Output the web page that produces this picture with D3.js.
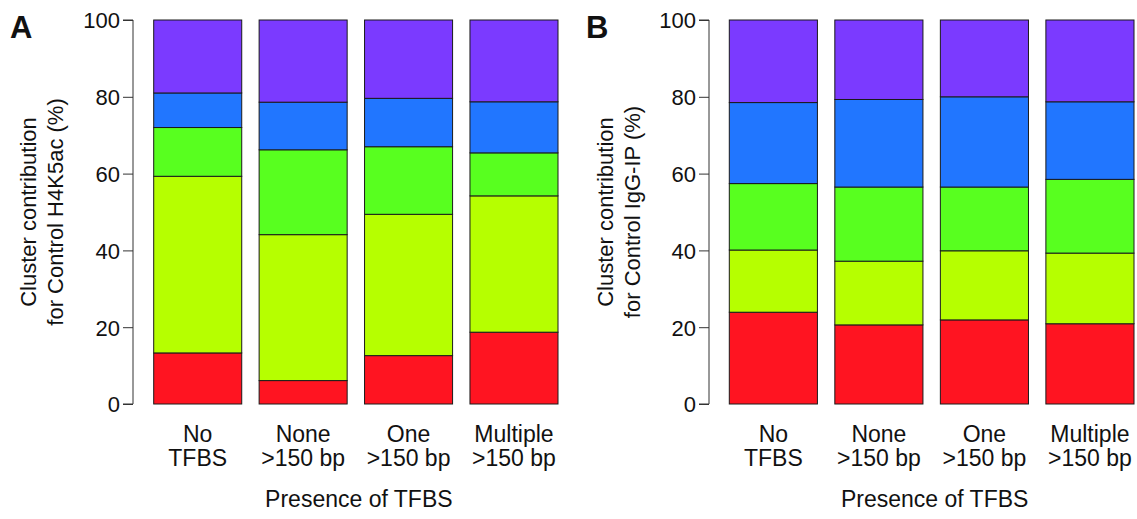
<!DOCTYPE html>
<meta charset="utf-8">
<style>
  body { margin: 0; background: #fff; }
  text { font-family: "Liberation Sans", Arial, sans-serif; fill: #111; }
</style>
<body></body>
<script src="https://cdn.jsdelivr.net/npm/d3@7"></script>
<script>
  const width = 1137
  const height = 519

  const categories = ["No\nTFBS", "None\n>150 bp", "One\n>150 bp", "Multiple\n>150 bp"]
  const clusters = ["red", "yellow", "green", "blue", "purple"] // bottom to top
  const clusterColors = ["#ff1421", "#b6ff00", "#58ff1f", "#2176ff", "#7b3aff"]
  const yTicks = [0, 20, 40, 60, 80, 100]

  // segment sizes (%) per bar, bottom to top
  const h4k5acRed = [13.3, 6.1, 12.6, 18.7]
  const h4k5acYellow = [46.0, 38.0, 36.8, 35.5]
  const h4k5acGreen = [12.7, 22.1, 17.6, 11.2]
  const h4k5acBlue = [9.0, 12.4, 12.6, 13.3]
  const h4k5acPurple = [19.0, 21.4, 20.4, 21.3]

  const iggRed = [23.9, 20.6, 21.9, 20.9]
  const iggYellow = [16.2, 16.6, 18.0, 18.4]
  const iggGreen = [17.3, 19.3, 16.6, 19.2]
  const iggBlue = [21.1, 22.8, 23.5, 20.2]
  const iggPurple = [21.5, 20.7, 20.0, 21.3]

  const panels = [
    {
      letter: "A",
      label: ["Cluster contribution", "for Control H4K5ac (%)"],
      series: [h4k5acRed, h4k5acYellow, h4k5acGreen, h4k5acBlue, h4k5acPurple],
      axisX: 133, barLeft: 153.7, barRight: 558, letterX: 10, labelX: 28
    },
    {
      letter: "B",
      label: ["Cluster contribution", "for Control IgG-IP (%)"],
      series: [iggRed, iggYellow, iggGreen, iggBlue, iggPurple],
      axisX: 709, barLeft: 729.3, barRight: 1134, letterX: 586, labelX: 605
    }
  ]

  const svg = d3.select("body")
    .append("svg")
    .attr("width", width)
    .attr("height", height)

  const y = d3.scaleLinear()
    .domain([0, 100])
    .range([404, 20])

  const color = d3.scaleOrdinal()
    .domain(clusters)
    .range(clusterColors)

  panels.forEach(p => {
    const rows = categories.map((c, i) => {
      const row = { category: c }
      clusters.forEach((k, j) => row[k] = p.series[j][i])
      return row
    })

    const stacked = d3.stack().keys(clusters)(rows)

    const x = d3.scaleBand()
      .domain(categories)
      .range([p.barLeft, p.barRight])
      .paddingInner(0.165)
      .paddingOuter(0)

    const g = svg.append("g")

    g.selectAll("g.layer")
      .data(stacked)
      .enter()
      .append("g")
      .attr("class", "layer")
      .attr("fill", d => color(d.key))
      .selectAll("rect")
      .data(d => d)
      .enter()
      .append("rect")
      .attr("x", d => x(d.data.category))
      .attr("y", d => y(d[1]))
      .attr("width", x.bandwidth())
      .attr("height", d => y(d[0]) - y(d[1]))
      .attr("stroke", "#1a1a1a")
      .attr("stroke-width", 1)

    // y axis
    const axis = g.append("g")
      .attr("transform", `translate(${p.axisX},0)`)
      .call(d3.axisLeft(y).tickValues(yTicks).tickSize(10).tickPadding(3))
    axis.select(".domain").attr("stroke", "#333").attr("d", `M-10,${y(0)}H0V${y(100)}H-10`)
    axis.selectAll(".tick line").attr("stroke", "#333")
    axis.selectAll(".tick text")
      .style("font-family", "Liberation Sans, Arial, sans-serif")
      .style("font-size", "22px")
      .attr("fill", "#111")
      .attr("dy", "0.36em")

    // category labels
    categories.forEach(c => {
      const lines = c.split("\n")
      g.append("text")
        .attr("text-anchor", "middle")
        .style("font-size", "23px")
        .selectAll("tspan")
        .data(lines)
        .enter()
        .append("tspan")
        .attr("x", x(c) + x.bandwidth() / 2)
        .attr("y", (d, i) => 442 + i * 24)
        .text(d => d)
    })

    g.append("text")
      .attr("x", (p.barLeft + p.barRight) / 2 + 3)
      .attr("y", 507)
      .attr("text-anchor", "middle")
      .style("font-size", "23px")
      .text("Presence of TFBS")

    // y label, two lines
    g.append("text")
      .attr("transform", `translate(${p.labelX},${y(50)}) rotate(-90)`)
      .attr("text-anchor", "middle")
      .style("font-size", "22px")
      .selectAll("tspan")
      .data(p.label)
      .enter()
      .append("tspan")
      .attr("x", 0)
      .attr("y", (d, i) => 8 + i * 27)
      .text(d => d)

    g.append("text")
      .attr("x", p.letterX)
      .attr("y", 38)
      .style("font-size", "31px")
      .style("font-weight", "bold")
      .text(p.letter)
  })
</script>
